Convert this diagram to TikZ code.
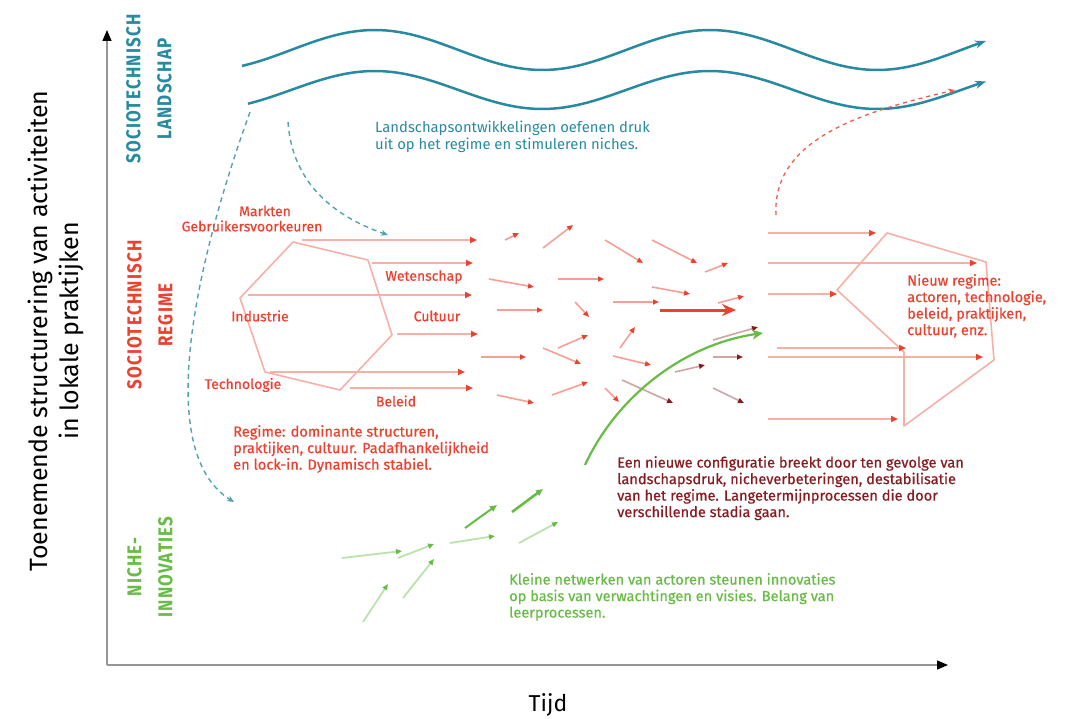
\documentclass[tikz,border=0pt]{standalone}
\usepackage{fontspec}
\setmainfont{Fira Sans}
\newfontfamily\notefont[FakeBold=0.6]{Fira Sans}
\newfontfamily\capsfont[FakeStretch=0.85,LetterSpace=6]{Fira Sans}
\usetikzlibrary{arrows.meta}
\definecolor{landteal}{RGB}{40,138,160}
\definecolor{regimered}{RGB}{238,64,46}
\definecolor{regimepink}{RGB}{246,176,166}
\definecolor{darkred}{RGB}{135,28,32}
\definecolor{nichegreen}{RGB}{104,188,70}
\definecolor{axisgray}{RGB}{150,150,150}

\tikzset{
    axisline/.style={axisgray, line width=1.5pt, -{Triangle[length=11pt,width=9pt,color=black]}},
    wave/.style={landteal, line width=2.5pt, -{Stealth[length=11pt,width=8pt]}},
    pressure/.style={landteal!80, line width=1.4pt, dash pattern=on 5pt off 4pt, -{Stealth[length=7pt,width=6pt]}},
    hexline/.style={regimepink, line width=1.6pt, line join=round},
    regimeflow/.style={regimepink, line width=2.4pt, -{Triangle[length=7pt,width=6pt,color=regimered]}},
    flow/.style={regimered!50, line width=1.6pt, -{Triangle[length=6pt,width=5pt,color=regimered]}},
    breakflow/.style={darkred!40, line width=1.6pt, -{Triangle[length=6pt,width=5pt,color=darkred]}},
    nicheflow/.style={nichegreen!45, line width=1.8pt, -{Triangle[length=6pt,width=5pt,color=nichegreen]}},
    nichestrong/.style={nichegreen, line width=2pt, -{Triangle[length=7pt,width=6pt]}},
    note/.style={font=\notefont\fontsize{14.6}{16.5}\selectfont, inner sep=0pt, align=left, anchor=north west},
    partlabel/.style={font=\notefont\fontsize{14}{16}\selectfont, inner sep=0pt, regimered},
    bandlabel/.style={font=\capsfont\bfseries\fontsize{20}{31}\selectfont, rotate=90, align=center, inner sep=0pt},
    axislabel/.style={font=\fontsize{25}{31}\selectfont, inner sep=0pt}
}

\begin{document}
\begin{tikzpicture}[x=1pt, y=-1pt, >=Stealth]
    \useasboundingbox (0,0) rectangle (1070,719);

    % Axes
    \coordinate (origin) at (107,665);
    \coordinate (ytop) at (107,30);
    \coordinate (xend) at (948,665);
    \draw[axisline] (origin) -- (ytop);
    \draw[axisline] (origin) -- (xend);
    \node[axislabel, rotate=90, align=center] (ylabel) at (56,331) {Toenemende structurering van activiteiten\\in lokale praktijken};
    \node[axislabel, font=\fontsize{23}{28}\selectfont] (xlabel) at (548,705) {Tijd};

    % Band labels
    \node[bandlabel, landteal] (landlabel) at (149,89) {SOCIOTECHNISCH\\LANDSCHAP};
    \node[bandlabel, regimered] (regimelabel) at (150,315) {SOCIOTECHNISCH\\REGIME};
    \node[bandlabel, nichegreen] (nichelabel) at (150,567) {NICHE-\\INNOVATIES};

    % Landscape waves
    \draw[wave] plot[domain=242:986, samples=120] (\x, {50-20*sin(1.0746*(\x-291))});
    \draw[wave] plot[domain=248:986, samples=120] (\x, {90-19*sin(1.0746*(\x-291))});
    \node[note, landteal, font=\fontsize{14.8}{16.5}\selectfont] (landnote) at (375,121) {Landschapsontwikkelingen oefenen druk\\uit op het regime en stimuleren niches.};

    % Landscape pressure
    \draw[pressure] (250,112) .. controls (200,250) and (150,450) .. (234,502);
    \draw[pressure] (288,122) .. controls (292,180) and (330,215) .. (388,235);
    \draw[regimered!85, line width=1.3pt, dash pattern=on 4pt off 4pt, -{Stealth[length=7pt,width=6pt]}] (776,215) .. controls (772,140) and (860,112) .. (955,90);

    % Current regime
    \draw[hexline] (293,242) -- (368,260) -- (392,335) -- (340,390) -- (265,372) -- (240,298) -- cycle;
    \foreach \xa/\ya/\xb in {302/240/477, 372/263/473, 248/295/472, 397/334/478, 270/372/465, 350/388/473}
        \draw[regimeflow] (\xa,\ya) -- (\xb,\ya);

    \node[partlabel] (markten) at (265,211) {Markten};
    \node[partlabel] (gebruikers) at (252,226) {Gebruikersvoorkeuren};
    \node[partlabel] (wetenschap) at (424,277) {Wetenschap};
    \node[partlabel] (industrie) at (260,316) {Industrie};
    \node[partlabel] (cultuur) at (437,316) {Cultuur};
    \node[partlabel] (technologie) at (243,385) {Technologie};
    \node[partlabel] (beleid) at (396,401) {Beleid};

    \node[note, regimered] (regimenote) at (233,425) {Regime: dominante structuren,\\praktijken, cultuur. Padafhankelijkheid\\en lock-in. Dynamisch stabiel.};

    % Destabilised regime
    \foreach \xa/\ya/\xb/\yb in {505/240/519/233, 543/248/573/225, 605/240/643/263, 652/240/697/263,
        705/272/728/263, 489/279/534/287, 558/279/604/279, 652/287/690/294, 497/310/543/310,
        575/302/589/317, 613/302/659/302, 718/303/744/296, 620/348/635/327, 558/348/588/335,
        543/348/581/364, 481/357/526/357, 613/356/651/365, 497/395/534/403, 552/395/588/382,
        605/388/619/402}
        \draw[flow] (\xa,\ya) -- (\xb,\yb);
    \foreach \xa/\ya/\xb/\yb in {713/340/758/327, 713/357/743/357, 675/372/705/365, 622/380/673/403, 713/388/744/403}
        \draw[breakflow] (\xa,\ya) -- (\xb,\yb);
    \draw[regimered, line width=3pt, -{Stealth[length=14pt,width=12pt]}] (660,310) -- (736,310);

    % Breakthrough of the niche
    \draw[nichegreen, line width=2.2pt, -{Stealth[length=11pt,width=10pt]}] (585,465) .. controls (615,400) and (680,345) .. (763,333);
    \node[note, darkred] (breaknote) at (617,456) {Een nieuwe configuratie breekt door ten gevolge van\\landschapsdruk, nicheverbeteringen, destabilisatie\\van het regime. Langetermijnprocessen die door\\verschillende stadia gaan.};

    % New regime
    \draw[hexline] (887,233) -- (986,262) -- (994,360) -- (904,426) -- (904,352) -- (837,290) -- cycle;
    \foreach \xa/\ya/\xb in {768/233/876, 768/263/977, 768/294/837, 777/348/906, 768/357/983, 768/419/898}
        \draw[regimeflow] (\xa,\ya) -- (\xb,\ya);
    \node[note, regimered] (newnote) at (907,274) {Nieuw regime:\\actoren, technologie,\\beleid, praktijken,\\cultuur, enz.};

    % Niche innovations
    \foreach \xa/\ya/\xb/\yb in {342/558/402/551, 398/558/434/544, 450/543/495/536, 519/543/558/522, 363/622/388/584, 403/598/434/559}
        \draw[nicheflow] (\xa,\ya) -- (\xb,\yb);
    \draw[nichestrong] (465,528) -- (497,505);
    \draw[nichestrong, line width=2.6pt] (512,512) -- (543,489);
    \node[note, nichegreen] (nichenote) at (509,573) {Kleine netwerken van actoren steunen innovaties\\op basis van verwachtingen en visies. Belang van\\leerprocessen.};

\end{tikzpicture}
\end{document}
